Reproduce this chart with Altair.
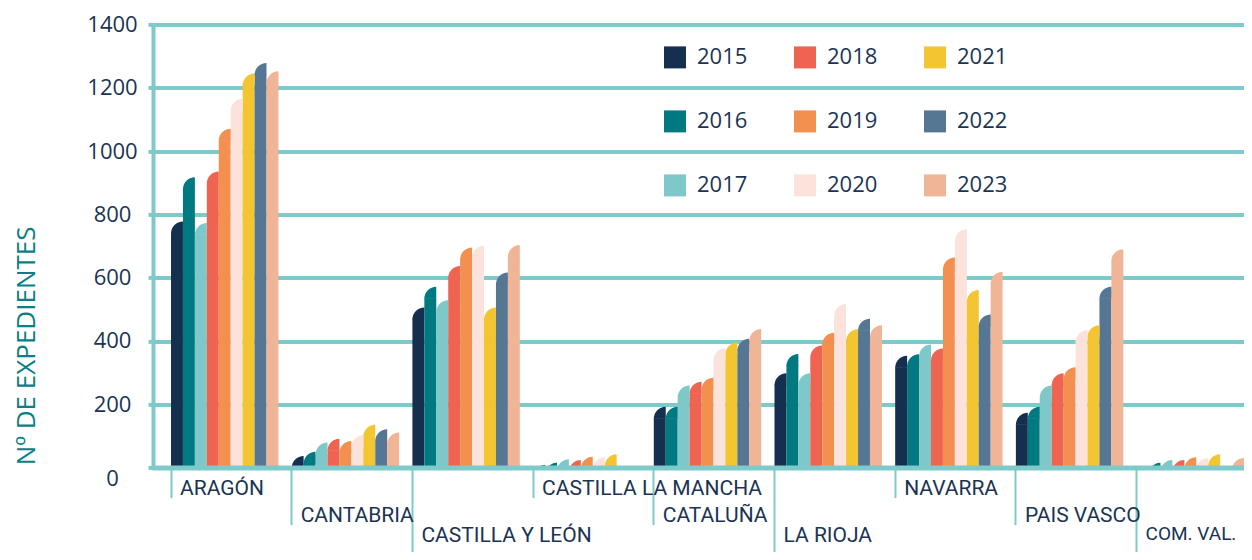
import altair as alt
import pandas as pd

regions = ["ARAGÓN", "CANTABRIA", "CASTILLA Y LEÓN", "CASTILLA LA MANCHA", "CATALUÑA",
           "LA RIOJA", "NAVARRA", "PAIS VASCO", "COM. VAL."]
years = ["2015", "2016", "2017", "2018", "2019", "2020", "2021", "2022", "2023"]
colors = ["#15304f", "#007a80", "#7ec8c9", "#ef6450", "#f39050",
          "#fbe3dc", "#f2c531", "#557794", "#f0b597"]

v2015 = [777, 37, 506, 8, 192, 298, 353, 173, 4]
v2016 = [917, 50, 571, 15, 192, 359, 358, 192, 15]
v2017 = [773, 79, 529, 26, 259, 298, 389, 259, 24]
v2018 = [935, 91, 637, 24, 271, 386, 376, 298, 24]
v2019 = [1070, 84, 695, 34, 284, 426, 664, 317, 33]
v2020 = [1165, 102, 701, 32, 377, 517, 753, 435, 30]
v2021 = [1245, 135, 506, 42, 395, 437, 561, 450, 42]
v2022 = [1278, 121, 616, 0, 407, 470, 484, 571, 0]
v2023 = [1252, 111, 703, 0, 438, 450, 619, 690, 30]
series = [v2015, v2016, v2017, v2018, v2019, v2020, v2021, v2022, v2023]

y_ticks = [0, 200, 400, 600, 800, 1000, 1200, 1400]

row2 = ["CANTABRIA", "CATALUÑA", "PAIS VASCO"]
row3 = ["CASTILLA Y LEÓN", "LA RIOJA", "COM. VAL."]

rows = []
for yr, vals in zip(years, series):
    for reg, v in zip(regions, vals):
        rows.append({"region": reg, "year": yr, "value": v})
df = pd.DataFrame(rows)

TEAL = "#7ecaca"
NAVY = "#1b3453"
DARKTEAL = "#0a7f85"

W = 1091
H = 443.2
PI = 0.11
PO = 0.0746
step = W / (len(regions) - PI + 2 * PO)
BAND = step * (1 - PI)
BAR_W = BAND / len(years)

test2 = "indexof(" + str(row2) + ", datum.value) >= 0"
test3 = "indexof(" + str(row3) + ", datum.value) >= 0"

tick_size = {"condition": [{"test": test2, "value": 57}, {"test": test3, "value": 92}], "value": 30}
label_pad = {"condition": [{"test": test2, "value": -20}, {"test": test3, "value": -35}], "value": -20.5}
label_size = {"condition": {"test": "datum.value === 'COM. VAL.'", "value": 19}, "value": 21}

x_enc = alt.X(
    "region:N", sort=regions,
    scale=alt.Scale(paddingInner=PI, paddingOuter=PO, align=1),
    axis=alt.Axis(
        title=None, bandPosition=0, labelAngle=0, labelAlign="left", labelBaseline="top",
        labelOffset=9 - BAND / 2, labelFont="Roboto", labelFontSize=label_size, labelColor=NAVY,
        labelLimit=400, labelOverlap=False,
        tickColor=TEAL, tickWidth=2, tickSize=tick_size, labelPadding=label_pad,
        domainColor=TEAL, domainWidth=5, domainCap="round", grid=False, zindex=1,
    ),
)
xoff = alt.XOffset("year:N", sort=years, scale=alt.Scale(paddingInner=0, paddingOuter=0))
y_enc = alt.Y(
    "value:Q", stack=None,
    scale=alt.Scale(domain=[0, 1400], nice=False),
    axis=alt.Axis(
        values=y_ticks, format="d", tickSize=5, tickWidth=4, tickColor=TEAL,
        domainColor=TEAL, domainWidth=4, gridColor=TEAL, gridWidth=4,
        labelFont="Open Sans", labelFontSize=22, labelColor=NAVY, labelAlign="center",
        labelPadding=36,
        labelOffset={"condition": {"test": "datum.value === 0", "value": 11}, "value": 0},
        title="Nº DE EXPEDIENTES", titleFont="Open Sans", titleFontSize=26,
        titleFontWeight="normal", titleColor=DARKTEAL, titleX=-127, titleY=321,
        titleAngle=270, titleBaseline="middle", titleAlign="center",
    ),
)
# the legend grid fills column by column: 2015-2017, 2018-2020, 2021-2023
color_enc = alt.Color(
    "year:N", sort=years,
    scale=alt.Scale(domain=years, range=colors),
    legend=alt.Legend(
        title=None, orient="none", legendX=511, legendY=22, columns=3,
        symbolType="square", symbolSize=484, symbolStrokeWidth=0,
        symbolOpacity=1, labelFont="Open Sans", labelFontSize=22, labelColor=NAVY,
        labelOffset=11, columnPadding=46, rowPadding=42, padding=0,
    ),
)

base = alt.Chart(df)
bars = base.mark_bar(yOffset=BAR_W - 0.6, clip=True).encode(
    x=x_enc, xOffset=xoff, y=y_enc, color=color_enc
)
caps = base.mark_point(
    shape="M -1 2 A 2 2 0 0 1 1 0 L 1 2 Z", filled=True, size=BAR_W ** 2,
    opacity=1, strokeWidth=0, clip=True,
).encode(x=x_enc, xOffset=xoff, y=y_enc, color=color_enc)

chart = alt.layer(bars, caps).properties(
    width=W, height=H,
    autosize=alt.AutoSizeParams(type="none"),
    padding={"left": 145, "top": 16.4, "right": 0, "bottom": 84.4},
).configure_view(stroke=None).configure(background="white")

chart.save("out.html", embed_options={"renderer": "svg", "actions": False})
